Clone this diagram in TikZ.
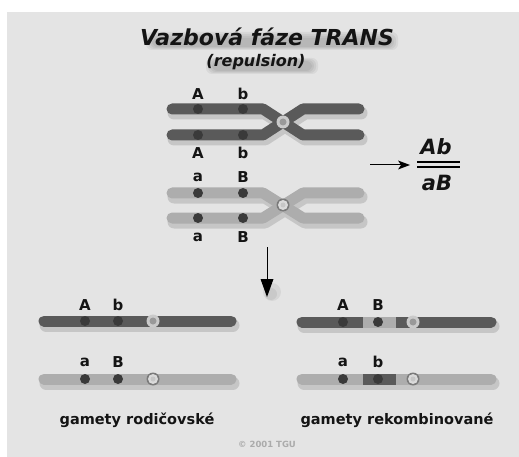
\documentclass[tikz,border=0pt]{standalone}
\usepackage{fontspec}
\newfontfamily\dv{DejaVu Sans}
\definecolor{bg}{HTML}{E4E4E4}
\definecolor{chrdark}{HTML}{5A5A5A}
\definecolor{chrlight}{HTML}{ADADAD}
\definecolor{gene}{HTML}{3A3A3A}
\definecolor{ringlight}{HTML}{CACACA}
\definecolor{ringdark}{HTML}{7A7A7A}
\definecolor{copy}{HTML}{ABABAB}
\tikzset{
  chrom/.style={line width=11pt, line cap=round, line join=round},
  chromshadow/.style={line width=13pt, line cap=round, line join=round, black, opacity=0.13},
  locus/.style={circle, fill=gene, inner sep=0pt, minimum size=10pt},
  genelabel/.style={font=\dv\bfseries\fontsize{15}{15}\selectfont, text=black!92, inner sep=0pt},
  caption/.style={font=\dv\bfseries\fontsize{14.5}{15}\selectfont, text=black!92, inner sep=0pt},
  bigital/.style={font=\dv\bfseries\itshape\fontsize{#1}{#1}\selectfont, text=black!92, inner sep=0pt},
  haze/.style={black, opacity=0.05, rounded corners=6pt},
  arrowline/.style={line width=1pt, black},
  cendark/.pic={\fill[ringlight] (0,0) circle (6.5); \fill[gray!80] (0,0) circle (3.5);},
  cenlight/.pic={\fill[ringdark] (0,0) circle (6.5); \fill[ringlight!70!white] (0,0) circle (5); \fill[gray!45] (0,0) circle (2.5);}
}
\begin{document}
\begin{tikzpicture}[x=1pt, y=-1pt]
% canvas
\fill[white] (0,0) rectangle (519,457);
\fill[bg] (7,12) rectangle (519,457);

% soft shadow behind the heading
\foreach \g in {0,2,4,6}{
  \fill[haze] (146+\g,32+\g) rectangle (398-\g,50-\g*0.5);
  \fill[haze] (206+\g,58+\g*0.5) rectangle (318-\g,74-\g*0.5);
}
\node[bigital=22] (title) at (267,37) {Vazbová fáze TRANS};
\node[bigital=16] (subtitle) at (256,62) {(repulsion)};

% homologous pair 1 (dark)
\begin{scope}[transparency group, opacity=0.13, shift={(2,4)}]
  \draw[chromshadow, opacity=1] (172,109) -- (263,109) -- (303,135) -- (359,135);
  \draw[chromshadow, opacity=1] (172,135) -- (263,135) -- (303,109) -- (359,109);
\end{scope}
\draw[chrom, chrdark] (172,109) -- (263,109) -- (303,135) -- (359,135);
\draw[chrom, chrdark] (172,135) -- (263,135) -- (303,109) -- (359,109);
\pic at (283,122) {cendark};
\node[locus] (p1A) at (198,109) {};
\node[locus] (p1b) at (243,109) {};
\node[locus] (p1A2) at (198,135) {};
\node[locus] (p1b2) at (243,135) {};
\node[genelabel] (l1A) at (198,94) {A};
\node[genelabel] (l1b) at (243,94) {b};
\node[genelabel] (l1A2) at (198,153) {A};
\node[genelabel] (l1b2) at (243,153) {b};

% homologous pair 2 (light)
\begin{scope}[transparency group, opacity=0.13, shift={(2,4)}]
  \draw[chromshadow, opacity=1] (172,193) -- (263,193) -- (303,218) -- (359,218);
  \draw[chromshadow, opacity=1] (172,218) -- (263,218) -- (303,193) -- (359,193);
\end{scope}
\draw[chrom, chrlight] (172,193) -- (263,193) -- (303,218) -- (359,218);
\draw[chrom, chrlight] (172,218) -- (263,218) -- (303,193) -- (359,193);
\pic at (283,205) {cenlight};
\node[locus] (p2a) at (198,193) {};
\node[locus] (p2B) at (243,193) {};
\node[locus] (p2a2) at (198,218) {};
\node[locus] (p2B2) at (243,218) {};
\node[genelabel] (l2a) at (198,177) {a};
\node[genelabel] (l2B) at (243,177) {B};
\node[genelabel] (l2a2) at (198,237) {a};
\node[genelabel] (l2B2) at (243,237) {B};

% genotype notation: shaft plus a notched head
\coordinate (rstart) at (370,165);
\coordinate (rneck) at (402,165);
\coordinate (rend) at (410,165);
\draw[arrowline] (rstart) -- (rneck);
\fill[black] (rend) -- (398,160.5) -- (401,165) -- (398,169.5) -- cycle;
\node[bigital=21] (numer) at (436,147) {Ab};
\node[bigital=21] (denom) at (437,183) {aB};
\draw[line width=1.6pt] (417,162) -- (460,162);
\draw[line width=1.6pt] (417,167) -- (460,167);

% meiosis arrow: shaft plus a triangular head with a soft shadow
\coordinate (dstart) at (267,247);
\coordinate (dneck) at (267,280);
\coordinate (dend) at (267,297);
\fill[black, opacity=0.06] (272,292) ellipse (9 and 9);
\fill[black, opacity=0.06] (271,294) ellipse (6 and 6);
\draw[arrowline] (dstart) -- (dneck);
\fill[black] (dend) -- (260.5,279) -- (273.5,279) -- cycle;

% parental gametes
\draw[chromshadow] (46,325) -- (233,325);
\draw[chrom, chrdark] (44,321) -- (231,321);
\pic at (153,321) {cendark};
\node[locus] (gA) at (85,321) {};
\node[locus] (gb) at (118,321) {};
\node[genelabel] (lgA) at (85,305) {A};
\node[genelabel] (lgb) at (118,305) {b};

\draw[chromshadow] (46,383) -- (233,383);
\draw[chrom, chrlight] (44,379) -- (231,379);
\pic at (153,379) {cenlight};
\node[locus] (ga) at (85,379) {};
\node[locus] (gB) at (118,379) {};
\node[genelabel] (lga) at (85,362) {a};
\node[genelabel] (lgB) at (118,362) {B};

\node[caption] (parental) at (137,420) {gamety rodičovské};

% recombinant gametes
\draw[chromshadow] (304,326) -- (493,326);
\draw[chrom, chrdark] (302,322) -- (491,322);
\fill[chrlight] (363,316.5) rectangle (396,327.5);
\pic at (413,322) {cendark};
\node[locus] (rA) at (343,322) {};
\node[locus] (rB) at (378,322) {};
\node[genelabel] (lrA) at (343,305) {A};
\node[genelabel] (lrB) at (378,305) {B};

\draw[chromshadow] (304,383) -- (493,383);
\draw[chrom, chrlight] (302,379) -- (491,379);
\fill[chrdark] (363,373.5) rectangle (396,384.5);
\pic at (413,379) {cenlight};
\node[locus] (ra) at (343,379) {};
\node[locus] (rb) at (378,379) {};
\node[genelabel] (lra) at (343,362) {a};
\node[genelabel] (lrb) at (378,362) {b};

\node[caption] (recomb) at (397,420) {gamety rekombinované};

% credit line
\node[font=\dv\bfseries\fontsize{8.5}{9}\selectfont, text=copy, inner sep=0pt] (credit) at (267,444) {© 2001 TGU};
\end{tikzpicture}
\end{document}
